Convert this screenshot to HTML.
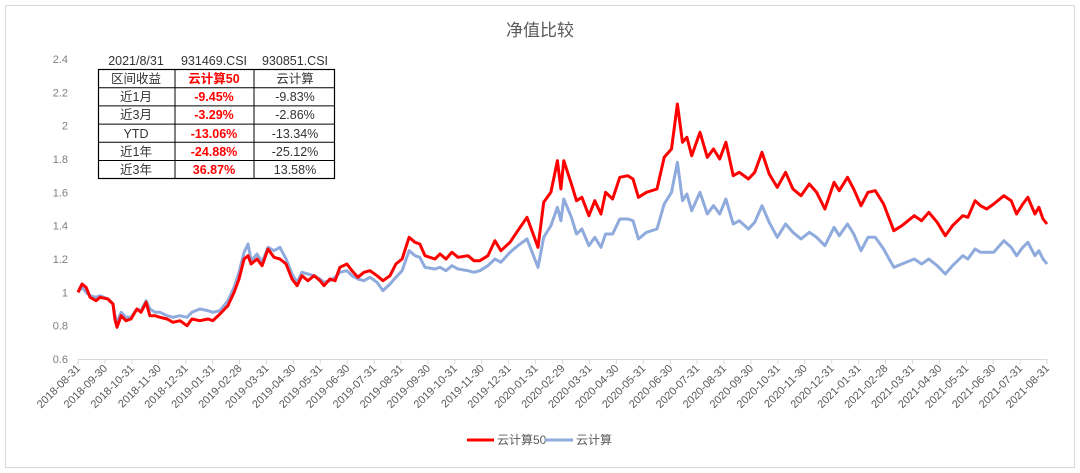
<!DOCTYPE html>
<html><head><meta charset="utf-8">
<style>
body{margin:0;background:#fff;}
svg{display:block;font-family:"Liberation Sans","Noto Sans CJK SC",sans-serif;}
</style></head>
<body>
<svg id="chart" width="1080" height="473" viewBox="0 0 1080 473" xmlns="http://www.w3.org/2000/svg">
<rect x="5.5" y="5.5" width="1069" height="462" fill="#fff" stroke="#d9d9d9"/>
<text x="540" y="36" text-anchor="middle" font-size="17" fill="#595959">净值比较</text>
<g id="grid"></g>
<g id="xaxis"></g>
<g id="series"></g>
<g font-size="12.5" text-anchor="middle">
  <text x="136" y="65" fill="#333">2021/8/31</text>
  <text x="214" y="65" fill="#333">931469.CSI</text>
  <text x="295" y="65" fill="#333">930851.CSI</text>
  <rect x="98.5" y="69.5" width="236" height="109" fill="none" stroke="#000" stroke-width="1.2"/>
  <line x1="98" y1="87.7" x2="335" y2="87.7" stroke="#000"/>
  <line x1="98" y1="105.9" x2="335" y2="105.9" stroke="#000"/>
  <line x1="98" y1="124.1" x2="335" y2="124.1" stroke="#000"/>
  <line x1="98" y1="142.3" x2="335" y2="142.3" stroke="#000"/>
  <line x1="98" y1="160.5" x2="335" y2="160.5" stroke="#000"/>
  <line x1="175" y1="69" x2="175" y2="179" stroke="#000"/>
  <line x1="254" y1="69" x2="254" y2="179" stroke="#000"/>
  <g fill="#333">
    <text x="136" y="83">区间收益</text><text x="136" y="101">近1月</text><text x="136" y="119">近3月</text>
    <text x="136" y="138">YTD</text><text x="136" y="156">近1年</text><text x="136" y="174">近3年</text>
  </g>
  <g fill="#ff0000" font-weight="bold">
    <text x="214" y="83">云计算50</text><text x="214" y="101">-9.45%</text><text x="214" y="119">-3.29%</text>
    <text x="214" y="138">-13.06%</text><text x="214" y="156">-24.88%</text><text x="214" y="174">36.87%</text>
  </g>
  <g fill="#333">
    <text x="295" y="83">云计算</text><text x="295" y="101">-9.83%</text><text x="295" y="119">-2.86%</text>
    <text x="295" y="138">-13.34%</text><text x="295" y="156">-25.12%</text><text x="295" y="174">13.58%</text>
  </g>
</g>
<g font-size="12" fill="#595959">
  <line x1="467" y1="440" x2="494" y2="440" stroke="#ff0000" stroke-width="3"/>
  <text x="497" y="444">云计算50</text>
  <line x1="545" y1="440" x2="573" y2="440" stroke="#8faadc" stroke-width="3"/>
  <text x="576" y="444">云计算</text>
</g>
</svg>
<script>
const tMonths=[0,0.15,0.3,0.45,0.67,0.82,1.11,1.3,1.37,1.45,1.6,1.78,1.97,2.19,2.34,2.53,2.67,2.86,3.05,3.31,3.53,3.79,4.05,4.23,4.53,4.83,5.01,5.27,5.57,5.8,5.98,6.17,6.32,6.43,6.65,6.84,7.06,7.28,7.5,7.73,7.95,8.14,8.32,8.54,8.77,8.99,9.14,9.36,9.55,9.73,9.99,10.18,10.4,10.62,10.85,11.11,11.33,11.59,11.81,12.04,12.3,12.52,12.7,12.89,13.26,13.45,13.67,13.89,14.12,14.49,14.71,14.93,15.23,15.49,15.71,16.05,16.34,16.68,17.09,17.3,17.57,17.81,17.94,18.05,18.33,18.52,18.72,18.98,19.2,19.43,19.6,19.86,20.13,20.43,20.62,20.82,21.12,21.51,21.78,22.05,22.27,22.46,22.62,22.8,23.11,23.38,23.61,23.84,24.07,24.34,24.57,24.91,25.14,25.41,25.68,25.98,26.29,26.56,26.86,27.17,27.44,27.75,28.09,28.28,28.59,28.82,29.09,29.35,29.62,29.93,30.31,30.61,31.07,31.34,31.61,31.92,32.22,32.49,32.87,33.06,33.33,33.53,33.76,34.02,34.4,34.67,34.87,35.1,35.29,35.55,35.7,35.85,36];
const yjs50=[1.00,1.05,1.03,0.97,0.95,0.97,0.96,0.93,0.84,0.79,0.86,0.83,0.84,0.90,0.88,0.94,0.86,0.86,0.85,0.84,0.82,0.83,0.80,0.84,0.83,0.84,0.83,0.87,0.92,1.00,1.08,1.20,1.22,1.17,1.20,1.16,1.26,1.21,1.20,1.17,1.08,1.04,1.10,1.07,1.10,1.07,1.04,1.08,1.07,1.15,1.17,1.13,1.09,1.12,1.13,1.10,1.07,1.10,1.17,1.20,1.33,1.30,1.29,1.22,1.20,1.23,1.20,1.24,1.21,1.22,1.19,1.19,1.22,1.31,1.25,1.30,1.37,1.45,1.27,1.54,1.60,1.79,1.62,1.79,1.65,1.55,1.57,1.46,1.55,1.47,1.60,1.56,1.69,1.70,1.68,1.57,1.60,1.62,1.81,1.86,2.13,1.90,1.93,1.82,1.96,1.81,1.86,1.80,1.90,1.70,1.72,1.68,1.72,1.84,1.71,1.63,1.72,1.62,1.58,1.65,1.60,1.50,1.66,1.61,1.69,1.62,1.52,1.60,1.61,1.53,1.37,1.40,1.46,1.43,1.48,1.42,1.34,1.40,1.46,1.45,1.55,1.52,1.50,1.53,1.58,1.55,1.47,1.53,1.57,1.47,1.51,1.44,1.41];
const yjs=[1.00,1.03,1.00,0.98,0.97,0.98,0.96,0.93,0.86,0.82,0.88,0.85,0.85,0.90,0.89,0.95,0.90,0.88,0.88,0.86,0.85,0.86,0.85,0.88,0.90,0.89,0.88,0.89,0.95,1.03,1.12,1.24,1.29,1.19,1.23,1.18,1.27,1.25,1.27,1.20,1.11,1.06,1.12,1.11,1.10,1.08,1.06,1.07,1.09,1.12,1.13,1.10,1.08,1.07,1.09,1.06,1.01,1.05,1.09,1.13,1.25,1.22,1.21,1.15,1.14,1.15,1.13,1.16,1.14,1.13,1.12,1.13,1.16,1.20,1.18,1.24,1.28,1.32,1.15,1.33,1.40,1.51,1.43,1.56,1.45,1.35,1.38,1.28,1.33,1.27,1.35,1.35,1.44,1.44,1.43,1.32,1.36,1.38,1.53,1.60,1.78,1.55,1.59,1.49,1.60,1.47,1.52,1.47,1.56,1.41,1.43,1.38,1.42,1.52,1.42,1.33,1.41,1.36,1.32,1.36,1.33,1.28,1.39,1.34,1.41,1.35,1.25,1.33,1.33,1.26,1.15,1.17,1.20,1.17,1.20,1.16,1.11,1.16,1.22,1.20,1.26,1.24,1.24,1.24,1.31,1.27,1.22,1.27,1.30,1.22,1.25,1.20,1.17];
const yTicks=[0.6,0.8,1,1.2,1.4,1.6,1.8,2,2.2,2.4];
const xTickLabels=["2018-08-31","2018-09-30","2018-10-31","2018-11-30","2018-12-31","2019-01-31","2019-02-28","2019-03-31","2019-04-30","2019-05-31","2019-06-30","2019-07-31","2019-08-31","2019-09-30","2019-10-31","2019-11-30","2019-12-31","2020-01-31","2020-02-29","2020-03-31","2020-04-30","2020-05-31","2020-06-30","2020-07-31","2020-08-31","2020-09-30","2020-10-31","2020-11-30","2020-12-31","2021-01-31","2021-02-28","2021-03-31","2021-04-30","2021-05-31","2021-06-30","2021-07-31","2021-08-31"];

const NS="http://www.w3.org/2000/svg";
const X0=78,X1=1047,Y0=359,Y1=59;
const xs=m=>X0+(X1-X0)*m/36;
const ys=v=>Y0-(v-0.6)/1.8*(Y0-Y1);
function mk(tag,attrs,parent){const e=document.createElementNS(NS,tag);for(const k in attrs)e.setAttribute(k,attrs[k]);parent.appendChild(e);return e;}
const grid=document.getElementById('grid');
yTicks.forEach(v=>{
  const t=mk('text',{x:68,y:ys(v)+4,'text-anchor':'end','font-size':11,fill:'#7f7f7f'},grid);
  
  
  t.textContent=String(v);
});
const xa=document.getElementById('xaxis');
const ax=mk('line',{x1:X0,y1:Y0+0.5,x2:X1,y2:Y0+0.5,stroke:'#d9d9d9','stroke-width':1},xa);


xTickLabels.forEach((lab,i)=>{
  const x=xs(i);
  const tk=mk('line',{x1:x,y1:Y0,x2:x,y2:Y0+5,stroke:'#d9d9d9'},xa);
  
  
  const t=mk('text',{x:x+3,y:Y0+10,'text-anchor':'end','font-size':11,fill:'#595959',transform:`rotate(-45 ${x+3} ${Y0+10})`},xa);
  
  
  t.textContent=lab;
});
const sg=document.getElementById('series');
function line(vals,color,name){
  const d=vals.map((v,i)=>(i?'L':'M')+xs(tMonths[i]).toFixed(1)+','+ys(v).toFixed(1)).join('');
  const p=mk('path',{d:d,fill:'none',stroke:color,'stroke-width':3,'stroke-linejoin':'round'},sg);
  
  
}
line(yjs,'#8faadc','line-yjs');
line(yjs50,'#ff0000','line-yjs50');
</script>
</body></html>
